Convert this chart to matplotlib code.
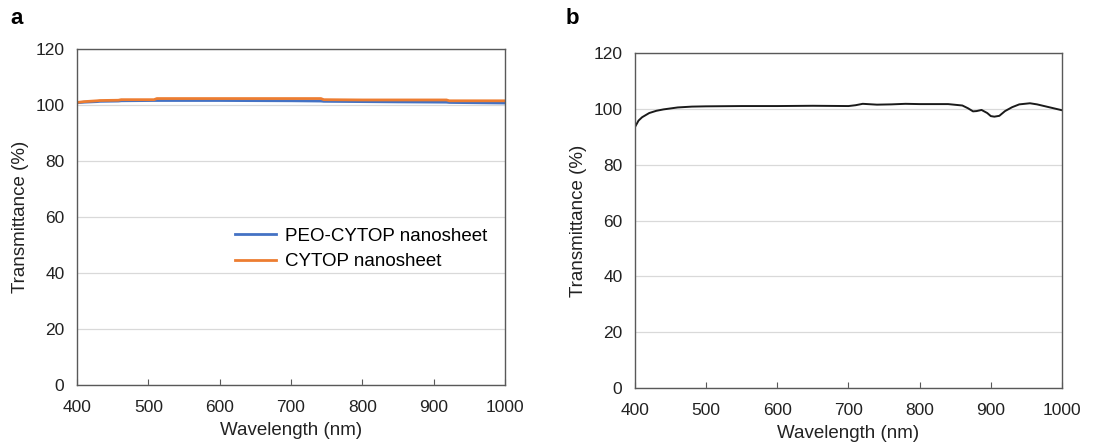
import matplotlib.pyplot as plt

plt.rcParams['font.family'] = ['Liberation Sans', 'DejaVu Sans']

# Panel a: transmittance of the two nanosheets
wl_a = [400, 410, 428, 432, 458, 462, 508, 512, 600, 700, 742, 746, 800, 850, 918, 922, 960, 1000]
peo_cytop = [100.8, 101.0, 101.2, 101.3, 101.4, 101.5, 101.6, 101.6, 101.6, 101.5, 101.4, 101.3, 101.2, 101.1, 101.0, 100.9, 100.8, 100.7]
cytop = [100.9, 101.2, 101.5, 101.6, 101.7, 101.9, 101.9, 102.3, 102.3, 102.3, 102.3, 101.9, 101.8, 101.8, 101.8, 101.5, 101.5, 101.5]

# Panel b: single transmittance spectrum
wl_b = [400, 405, 410, 420, 430, 440, 460, 480, 500, 550, 600, 650, 700, 710, 720, 740, 760, 780, 800,
        820, 840, 860, 868, 875, 880, 887, 895, 900, 905, 912, 920, 930, 940, 955, 965, 980, 990, 1000]
trans_b = [93.5, 95.8, 97.0, 98.5, 99.3, 99.8, 100.5, 100.8, 100.9, 101.0, 101.0, 101.1, 101.0, 101.3, 101.8, 101.5, 101.6, 101.8, 101.7,
           101.7, 101.7, 101.2, 100.2, 99.1, 99.2, 99.6, 98.5, 97.4, 97.2, 97.5, 99.2, 100.6, 101.6, 102.0, 101.6, 100.7, 100.1, 99.5]

fig = plt.figure(figsize=(11.03, 4.47), dpi=100)
ax_a = fig.add_axes([0.0698, 0.1387, 0.388, 0.7517])
ax_b = fig.add_axes([0.5757, 0.1320, 0.3871, 0.7494])

ax_a.plot(wl_a, peo_cytop, color='#4472C4', lw=2.0, label='PEO-CYTOP nanosheet')
ax_a.plot(wl_a, cytop, color='#ED7D31', lw=2.0, label='CYTOP nanosheet')
ax_b.plot(wl_b, trans_b, color='#1a1a1a', lw=1.4)

for ax in (ax_a, ax_b):
    ax.set_xlim(400, 1000)
    ax.set_ylim(0, 120)
    ax.set_xticks(range(400, 1001, 100))
    ax.set_yticks(range(0, 121, 20))
    ax.grid(axis='y', color='#d9d9d9', lw=0.9)
    ax.set_axisbelow(True)
    for s in ax.spines.values():
        s.set_color('#595959')
        s.set_linewidth(1.0)
    ax.tick_params(axis='x', direction='in', length=4, color='#595959', labelsize=12.5, pad=11, labelcolor='#222222')
    ax.tick_params(axis='y', length=0, labelsize=12.5, pad=9, labelcolor='#222222')
    ax.set_xlabel('Wavelength (nm)', fontsize=13.5, color='#222222', labelpad=5)
    ax.set_ylabel('Transmittance (%)', fontsize=13.5, color='#222222', labelpad=5)

ax_a.legend(loc='center left', bbox_to_anchor=(0.369, 0.405), frameon=False, fontsize=13.5,
            borderpad=0, borderaxespad=0, handlelength=2.2, handletextpad=0.45, labelspacing=0.45)

fig.text(0.009, 0.958, 'a', fontsize=16, fontweight='bold', va='center')
fig.text(0.513, 0.958, 'b', fontsize=16, fontweight='bold', va='center')

fig.savefig('out.png', dpi=100)
